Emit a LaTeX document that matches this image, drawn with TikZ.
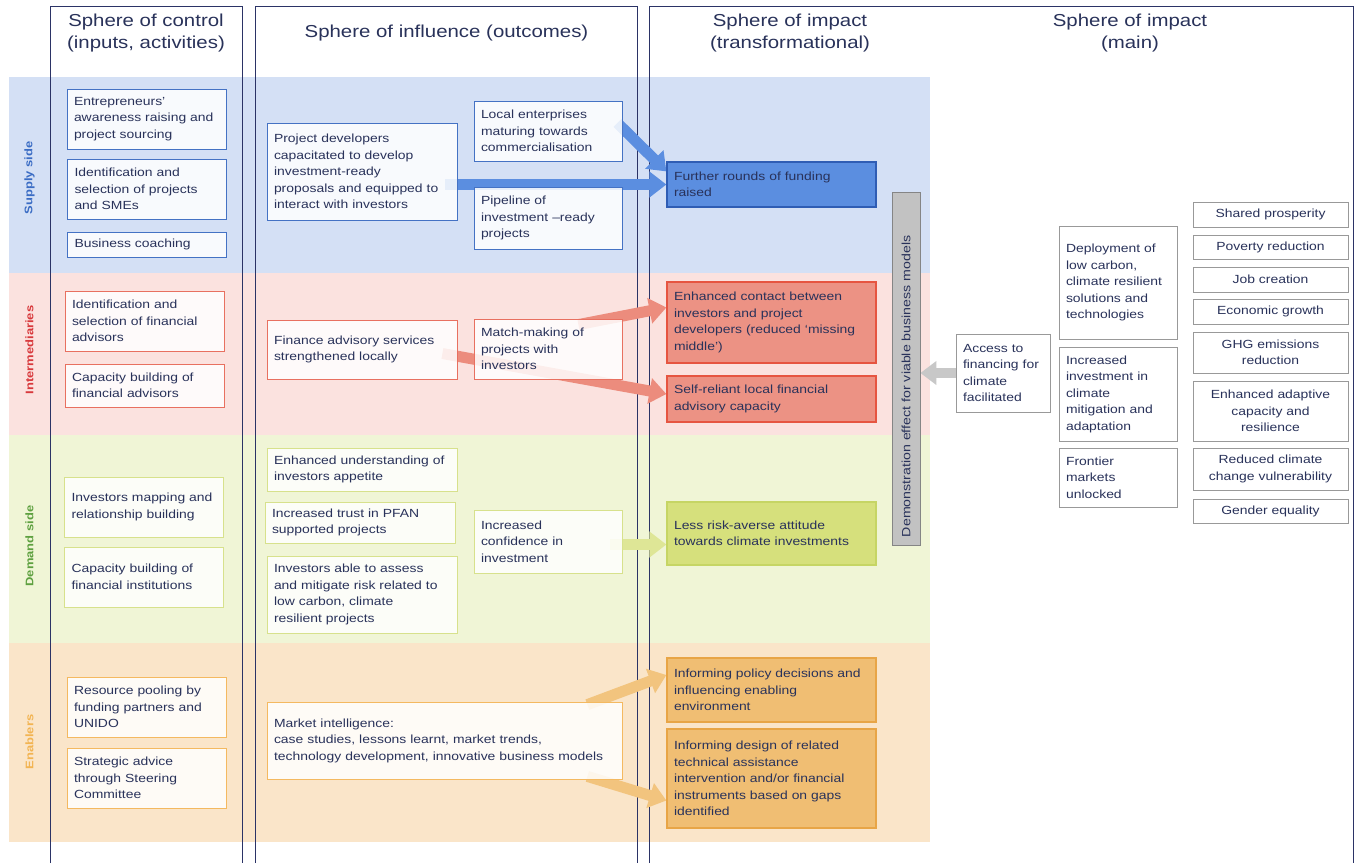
\documentclass[tikz,border=0pt]{standalone}
\usepackage{fontspec}
\setmainfont{Liberation Sans}[FakeStretch=1.18]
\usetikzlibrary{calc}
\usetikzlibrary{positioning}
\usetikzlibrary{arrows.meta}

\definecolor{ink}{HTML}{29325A}
\definecolor{frameline}{HTML}{2B3366}
\definecolor{supband}{HTML}{D4E0F5}
\definecolor{intband}{HTML}{FBE2DF}
\definecolor{demband}{HTML}{F0F5D6}
\definecolor{enaband}{HTML}{FAE5C9}
\definecolor{supline}{HTML}{4472C4}
\definecolor{intline}{HTML}{E87060}
\definecolor{demline}{HTML}{D7E18C}
\definecolor{enaline}{HTML}{F4B960}
\definecolor{suptext}{HTML}{3A6CC4}
\definecolor{inttext}{HTML}{D8393C}
\definecolor{demtext}{HTML}{5EA040}
\definecolor{enatext}{HTML}{F2B452}
\definecolor{supfill}{HTML}{5B8EE0}
\definecolor{supdark}{HTML}{2F5DB4}
\definecolor{intfill}{HTML}{EC9284}
\definecolor{intdark}{HTML}{E65541}
\definecolor{demfill}{HTML}{D6E07C}
\definecolor{demdark}{HTML}{C6D564}
\definecolor{enafill}{HTML}{F0BE73}
\definecolor{enadark}{HTML}{E8A546}
\definecolor{suparrow}{HTML}{5B8EE0}
\definecolor{intarrow}{HTML}{EC8C7D}
\definecolor{demarrow}{HTML}{DEE696}
\definecolor{enaarrow}{HTML}{F2C47E}
\definecolor{greybar}{HTML}{C2C2C2}
\definecolor{greyline}{HTML}{858585}
\definecolor{greyarrow}{HTML}{C8C8C8}
\definecolor{mainline}{HTML}{999999}

\pgfdeclarelayer{bands}
\pgfdeclarelayer{links}
\pgfsetlayers{bands,links,main}

\begin{document}
\begin{tikzpicture} [x=1pt, y=-1pt,
    every node/.style = {font=\fontsize{11.8}{16.5}\selectfont, text=ink},
    box/.style = {draw, fill=white, fill opacity=.85, text opacity=1,
        align=left, inner xsep=7pt, inner ysep=2pt, line width=.8pt},
    sup/.style = {box, draw=supline},
    int/.style = {box, draw=intline},
    dem/.style = {box, draw=demline},
    ena/.style = {box, draw=enaline},
    ctrl/.style = {text width=145pt},
    infl/.style = {text width=176pt},
    infr/.style = {text width=134pt},
    trans/.style = {box, text width=195pt, fill opacity=1, line width=1.2pt},
    impact/.style = {box, draw=mainline, fill opacity=1},
    goal/.style = {impact, align=center, text width=141pt},
    lab/.style = {rotate=90, font=\fontsize{11}{13}\selectfont\bfseries},
    title/.style = {align=center, font=\fontsize{17.3}{22}\selectfont},
    fat/.style = {line width=11pt, -{Triangle[width=25pt,length=17pt]}},
    frame/.style = {draw=frameline, line width=.8pt}]

\useasboundingbox (0,0) rectangle (1372,863);

% bands and column frames
\begin{pgfonlayer}{bands}
\fill [white] (0,0) rectangle (1372,863);
\fill [supband] (9,77) rectangle (930,273);
\fill [intband] (9,273) rectangle (930,435);
\fill [demband] (9,435) rectangle (930,643);
\fill [enaband] (9,643) rectangle (930,842);

\draw [frame] (50,863) |- (242,6) -- (242,863);
\draw [frame] (255.5,863) |- (637.5,6) -- (637.5,863);
\draw [frame] (649,863) |- (1353,6) -- (1353,863);
\end{pgfonlayer}

% titles
\node [title] (ctrlT) at (146,33) {Sphere of control\\(inputs, activities)};
\node [title] (inflT) at (446.5,33) {Sphere of influence (outcomes)};
\node [title] (transT) at (790,33) {Sphere of impact\\(transformational)};
\node [title] (mainT) at (1130,33) {Sphere of impact\\(main)};

% band labels
\node [lab, text=suptext] (supL) at (29.5,178) {Supply side};
\node [lab, text=inttext] (intL) at (29.5,350) {Intermediaries};
\node [lab, text=demtext] (demL) at (29.5,546) {Demand side};
\node [lab, text=enatext] (enaL) at (29.5,742) {Enablers};

% supply side
\node [sup, ctrl, minimum height=60pt] (entre) at (146.5,119)
    {Entrepreneurs’\\awareness raising and\\project sourcing};
\node [sup, ctrl, minimum height=60pt] (idproj) at (147,189)
    {Identification and\\selection of projects\\and SMEs};
\node [sup, ctrl, minimum height=25pt] (coach) at (147,244.5)
    {Business coaching};
\node [sup, infl, minimum height=97pt] (projdev) at (362,171.5)
    {Project developers\\capacitated to develop\\investment-ready\\proposals and equipped to\\interact with investors};
\node [sup, infr, minimum height=60pt] (local) at (548,131)
    {Local enterprises\\maturing towards\\commercialisation};
\node [sup, infr, minimum height=62pt] (pipe) at (548,218)
    {Pipeline of\\investment –ready\\projects};
\node [trans, draw=supdark, fill=supfill, minimum height=45pt] (further) at (771.5,184.5)
    {Further rounds of funding\\raised};

% intermediaries
\node [int, ctrl, minimum height=60pt] (idfin) at (144.5,321)
    {Identification and\\selection of financial\\advisors};
\node [int, ctrl, minimum height=43pt] (capfin) at (144.5,385.5)
    {Capacity building of\\financial advisors};
\node [int, infl, minimum height=59pt] (finance) at (362,349.5)
    {Finance advisory services\\strengthened locally};
\node [int, infr, minimum height=60pt] (match) at (548,349)
    {Match-making of\\projects with\\investors};
\node [trans, draw=intdark, fill=intfill, minimum height=81pt] (contact) at (771.5,322.5)
    {Enhanced contact between\\investors and project\\developers (reduced ‘missing\\middle’)};
\node [trans, draw=intdark, fill=intfill, minimum height=46pt] (selfrel) at (771.5,399)
    {Self-reliant local financial\\advisory capacity};

% demand side
\node [dem, ctrl, minimum height=60pt] (invmap) at (144,507)
    {Investors mapping and\\relationship building};
\node [dem, ctrl, minimum height=60pt] (capinst) at (144,577)
    {Capacity building of\\financial institutions};
\node [dem, infl, minimum height=43pt] (appetite) at (362,469.5)
    {Enhanced understanding of\\investors appetite};
\node [dem, infl, minimum height=41pt] (trust) at (360,522.5)
    {Increased trust in PFAN\\supported projects};
\node [dem, infl, minimum height=77pt] (able) at (362,594.5)
    {Investors able to assess\\and mitigate risk related to\\low carbon, climate\\resilient projects};
\node [dem, infr, minimum height=63pt] (confid) at (548,541.5)
    {Increased\\confidence in\\investment};
\node [trans, draw=demdark, fill=demfill, minimum height=63pt] (lessrisk) at (771.5,533.5)
    {Less risk-averse attitude\\towards climate investments};

% enablers
\node [ena, ctrl, minimum height=60pt] (pool) at (146.5,707)
    {Resource pooling by\\funding partners and\\UNIDO};
\node [ena, ctrl, minimum height=60pt] (advice) at (146.5,778)
    {Strategic advice\\through Steering\\Committee};
\node [ena, text width=341pt, minimum height=77pt] (market) at (444.5,740.5)
    {Market intelligence:\\case studies, lessons learnt, market trends,\\technology development, innovative business models};
\node [trans, draw=enadark, fill=enafill, minimum height=64pt] (policy) at (771.5,690)
    {Informing policy decisions and\\influencing enabling\\environment};
\node [trans, draw=enadark, fill=enafill, minimum height=99pt] (design) at (771.5,778.5)
    {Informing design of related\\technical assistance\\intervention and/or financial\\instruments based on gaps\\identified};

% demonstration bar
\node [rotate=90, draw=greyline, fill=greybar, line width=.8pt,
    minimum width=353pt, minimum height=28pt, text width=337pt,
    inner xsep=8pt, align=left, font=\fontsize{12}{14}\selectfont] (demo) at (906,368.5)
    {Demonstration effect for viable business models};

% main impact
\node [impact, text width=80pt, minimum height=78pt] (access) at (1003,373)
    {Access to\\financing for\\climate\\facilitated};
\node [impact, text width=104pt, minimum height=113pt] (deploy) at (1118,282.5)
    {Deployment of\\low carbon,\\climate resilient\\solutions and\\technologies};
\node [impact, text width=104pt, minimum height=94pt] (invest) at (1118,394)
    {Increased\\investment in\\climate\\mitigation and\\adaptation};
\node [impact, text width=104pt, minimum height=59pt] (frontier) at (1118,477.5)
    {Frontier\\markets\\unlocked};

\node [goal, minimum height=25pt] (shared) at (1270.5,214.5) {Shared prosperity};
\node [goal, minimum height=24pt] (poverty) at (1270.5,247) {Poverty reduction};
\node [goal, minimum height=25pt] (job) at (1270.5,279.5) {Job creation};
\node [goal, minimum height=25pt] (growth) at (1270.5,311.5) {Economic growth};
\node [goal, minimum height=41pt] (ghg) at (1270.5,352.5) {GHG emissions\\reduction};
\node [goal, minimum height=60pt] (adapt) at (1270.5,411) {Enhanced adaptive\\capacity and\\resilience};
\node [goal, minimum height=42pt] (vulner) at (1270.5,469) {Reduced climate\\change vulnerability};
\node [goal, minimum height=24pt] (gender) at (1270.5,511) {Gender equality};

% fat arrows
\begin{pgfonlayer}{links}
\draw [fat, suparrow] ($(projdev.east |- further.west)+(-12,0)$) -- (further.west);
\draw [fat, suparrow] ($(local.east)+(-5,-8)$) -- ($(further.north west)+(0,10)$);
\draw [fat, intarrow] ($(match.north east)+(-44,6)$) -- ($(contact.west)+(0,-15)$);
\draw [fat, intarrow] ($(finance.east)+(-15,4)$) -- ($(selfrel.west)+(0,-5)$);
\draw [fat, demarrow] ($(confid.east)+(-12,3)$) -- ($(lessrisk.west)+(0,11)$);
\draw [fat, enaarrow] ($(market.north east)+(-35,3)$) -- ($(policy.west)+(0,-15)$);
\draw [fat, enaarrow] ($(market.south east)+(-35,-3)$) -- ($(design.west)+(0,22)$);
\draw [greyarrow, line width=10pt, -{Triangle[width=23pt,length=16pt]}]
    (access.west) -- (access.west -| demo.south);
\end{pgfonlayer}

\end{tikzpicture}
\end{document}
